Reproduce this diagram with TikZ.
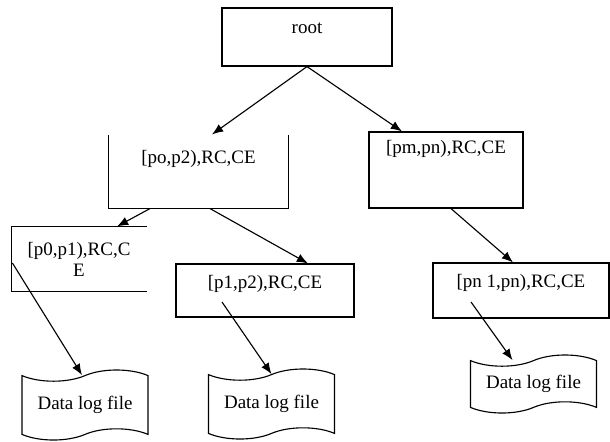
\documentclass[tikz,border=0pt]{standalone}
\usepackage{fontspec}
\setmainfont{Liberation Serif}
\usetikzlibrary{arrows.meta, calc, shapes.symbols}

\begin{document}
\begin{tikzpicture}[x=0.025cm, y=-0.025cm, line width=0.8pt,
    >={Latex[length=0.28cm, width=0.22cm]},
    box/.style={inner sep=0pt, font=\fontsize{13.5}{15}\selectfont},
    logfile/.style={tape, draw, inner sep=0pt, minimum width=3.15cm,
        tape bend height=0.28cm, font=\fontsize{13.5}{15}\selectfont}]
    \useasboundingbox (0,0) rectangle (610,441);

    \node[box, draw, minimum width=4.25cm, text height=0.625cm, text depth=0.825cm] (root) at (307,37) {root};
    \node[box, minimum width=4.475cm, text height=0.675cm, text depth=1.125cm] (lo) at (198.5,172) {[po,p2),RC,CE};
    \node[box, draw, minimum width=3.85cm, text height=0.55cm, text depth=1.35cm] (hi) at (446,170) {[pm,pn),RC,CE};
    \node[box, align=center, minimum width=3.35cm, minimum height=1.6cm] (lolo) at (79,259) {[p0,p1),RC,C\\E};
    \node[box, draw, minimum width=4.45cm, text height=0.6cm, text depth=0.725cm] (lohi) at (265,290.5) {[p1,p2),RC,CE};
    \node[box, draw, minimum width=4.4cm, text height=0.6cm, text depth=0.775cm] (hihi) at (521,290.5) {[pn 1,pn),RC,CE};

    \draw (lo.north west) |- (lo.south east) -- (lo.north east);
    \draw (lolo.north east) -- (lolo.north west) |- (lolo.south east);

    \node[logfile, minimum height=1.75cm] (log1) at (85,405) {Data log file};
    \node[logfile, minimum height=1.75cm] (log2) at (271.5,404) {Data log file};
    \node[logfile, minimum height=1.45cm] (log3) at (533.5,384) {Data log file};

    \draw[->] (root.south) -- ($(lo.north)+(13.5,-1)$);
    \draw[->] (root.south) -- ($(hi.north)+(-44,0)$);
    \draw[->] ($(lo.south)+(-48.5,0)$) -- ($(lolo.north)+(38,0)$);
    \draw[->] ($(lo.south)+(11.5,0)$) -- ($(lohi.north)+(43,0)$);
    \draw[->] ($(hi.south)+(5,0)$) -- ($(hihi.north)+(-8,0)$);
    \draw[->] ($(lolo.west)+(1,4)$) -- ($(log1.north)+(-3,0)$);
    \draw[->] ($(lohi.center)+(-43,11.5)$) -- (log2.north);
    \draw[->] ($(hihi.center)+(-50,11.5)$) -- ($(log3.north)+(-21,0)$);
\end{tikzpicture}
\end{document}
